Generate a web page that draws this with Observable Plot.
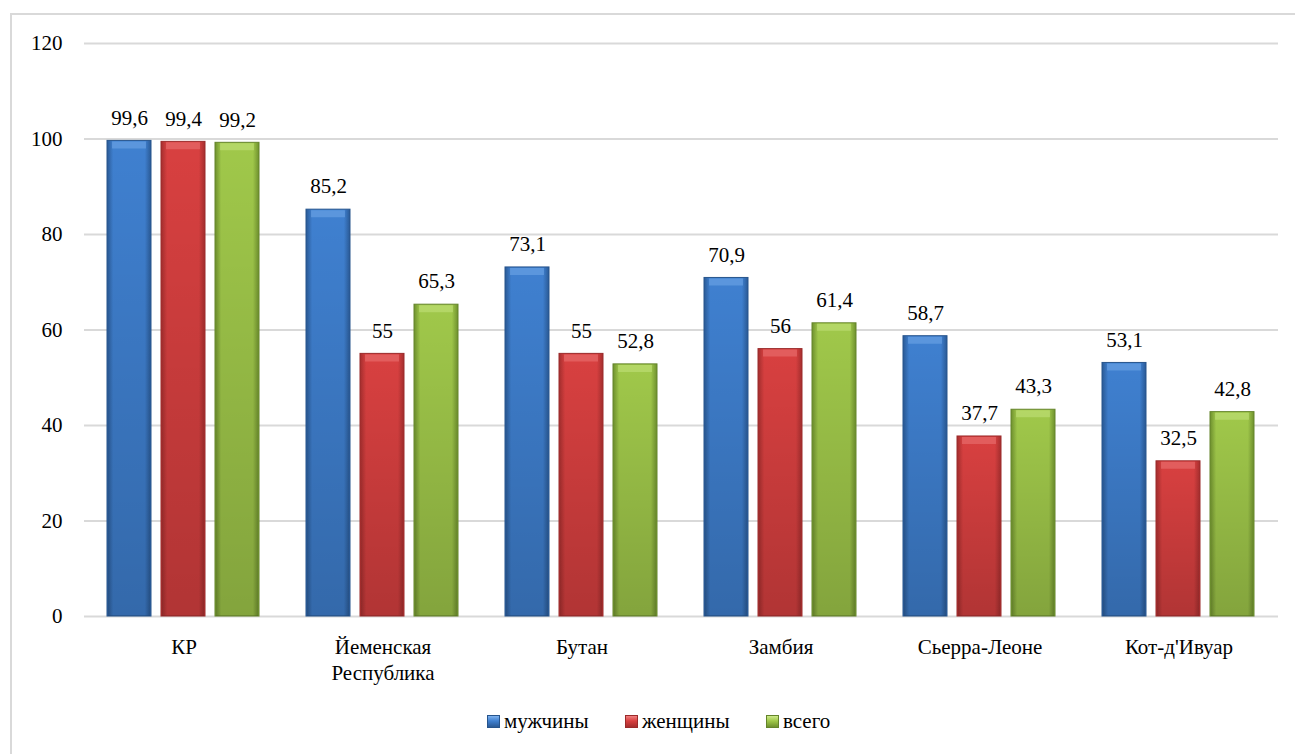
<!DOCTYPE html>
<html>
<head>
<meta charset="utf-8">
<script src="https://cdn.jsdelivr.net/npm/d3@7"></script>
<script src="https://cdn.jsdelivr.net/npm/@observablehq/plot@0.6"></script>
<style>
  html, body { margin: 0; padding: 0; background: #fff; }
  body { width: 1295px; height: 754px; position: relative; overflow: hidden; font-family: "Liberation Serif", "Times New Roman", Times, "Noto Serif", "DejaVu Serif", serif; }
  #frame { position: absolute; left: 10px; top: 13px; width: 1300px; height: 760px; border: 2px solid #d9d9d9; box-sizing: border-box; }
  #chart { position: absolute; left: 0; top: 0; }
  .item { position: absolute; top: 709px; display: flex; align-items: center; font-size: 21px; color: #000; }
  .sw { width: 13px; height: 13px; margin-right: 4px; box-sizing: border-box; }
  #chart svg, #chart svg text { font-family: "Liberation Serif", "Times New Roman", Times, "Noto Serif", "DejaVu Serif", serif !important; }
</style>
</head>
<body>
<div id="frame"></div>
<div id="chart"></div>
<div id="legend"></div>
<script>
const countries = ["КР", "Йеменская Республика", "Бутан", "Замбия", "Сьерра-Леоне", "Кот-д'Ивуар"];
const countryLabels = ["КР", "Йеменская\nРеспублика", "Бутан", "Замбия", "Сьерра-Леоне", "Кот-д'Ивуар"];
const seriesNames = ["мужчины", "женщины", "всего"];
const men = [99.6, 85.2, 73.1, 70.9, 58.7, 53.1];
const women = [99.4, 55, 55, 56, 37.7, 32.5];
const total = [99.2, 65.3, 52.8, 61.4, 43.3, 42.8];
const yTicks = [0, 20, 40, 60, 80, 100, 120];

const seriesValues = [men, women, total];
const gradIds = ["gBlue", "gRed", "gGreen"];
const palette = {
  gBlue: {edge: "#2a5a96", mid: "#3f80d0", top: "#7fb2ee", stroke: "#26548c"},
  gRed: {edge: "#a52e2e", mid: "#d84040", top: "#f08080", stroke: "#9a2a2a"},
  gGreen: {edge: "#6f912e", mid: "#a0c84a", top: "#cde98a", stroke: "#64842a"}
};

const data = [];
countries.forEach((c, i) => {
  seriesNames.forEach((s, j) => {
    data.push({country: c, series: s, value: seriesValues[j][i]});
  });
});

const labelOf = Object.fromEntries(countries.map((c, i) => [c, countryLabels[i]]));
const fmt = v => String(v).replace(".", ",");
const pal = d => palette[gradIds[seriesNames.indexOf(d.series)]];

function defs() {
  const d = d3.create("svg:defs");
  for (const id of gradIds) {
    const p = palette[id];
    const g = d.append("linearGradient").attr("id", id).attr("x1", 0).attr("x2", 1).attr("y1", 0).attr("y2", 0);
    g.append("stop").attr("offset", "0%").attr("stop-color", p.edge);
    g.append("stop").attr("offset", "14%").attr("stop-color", p.mid);
    g.append("stop").attr("offset", "86%").attr("stop-color", p.mid);
    g.append("stop").attr("offset", "100%").attr("stop-color", p.edge);
  }
  const s = d.append("linearGradient").attr("id", "shade").attr("x1", 0).attr("x2", 0).attr("y1", 0).attr("y2", 1);
  s.append("stop").attr("offset", "0%").attr("stop-color", "#000").attr("stop-opacity", 0);
  s.append("stop").attr("offset", "100%").attr("stop-color", "#000").attr("stop-opacity", 0.18);
  return d.node();
}

const chart = Plot.plot({
  width: 1295,
  height: 690,
  marginLeft: 84,
  marginRight: 17,
  marginTop: 43,
  marginBottom: 74,
  style: {fontSize: "21px", color: "#000", background: "transparent"},
  fx: {domain: countries, padding: 0},
  x: {domain: seriesNames, paddingInner: 0.18, paddingOuter: 0.4},
  y: {domain: [0, 120]},
  color: {domain: seriesNames, range: gradIds.map(id => `url(#${id})`)},
  marks: [
    defs,
    Plot.gridY(yTicks, {stroke: "#d9d9d9", strokeOpacity: 1, strokeWidth: 2}),
    Plot.axisY(yTicks, {tickSize: 0, tickPadding: 22, fontSize: 21, label: null, tickFormat: d => String(d)}),
    Plot.axisFx({anchor: "bottom", tickSize: 0, tickPadding: 19, fontSize: 21, lineHeight: 1.25, tickFormat: d => labelOf[d], label: null}),
    Plot.axisX({ticks: [], label: null, tickSize: 0}),
    Plot.barY(data, {fx: "country", x: "series", y: "value", fill: "series", stroke: d => pal(d).stroke, strokeWidth: 1}),
    Plot.barY(data, {fx: "country", x: "series", y: "value", fill: "url(#shade)", insetLeft: 1, insetRight: 1}),
    Plot.tickY(data, {fx: "country", x: "series", y: "value", dy: 4, strokeWidth: 7, insetLeft: 5, insetRight: 5,
      stroke: d => pal(d).top, strokeOpacity: 0.45}),
    Plot.text(data, {fx: "country", x: "series", y: "value", text: d => fmt(d.value), dy: -23, fontSize: 21, fill: "#000"})
  ]
});
document.getElementById("chart").appendChild(chart);

const legend = document.getElementById("legend");
const legendLeft = [487, 625, 766];
seriesNames.forEach((s, j) => {
  const p = palette[gradIds[j]];
  const item = document.createElement("div");
  item.className = "item";
  item.style.left = legendLeft[j] + "px";
  const sw = document.createElement("div");
  sw.className = "sw";
  sw.style.background = `linear-gradient(to bottom, ${p.top} 0%, ${p.mid} 45%, ${p.edge} 100%)`;
  sw.style.border = `1px solid ${p.stroke}`;
  const tx = document.createElement("span");
  tx.textContent = s;
  item.appendChild(sw);
  item.appendChild(tx);
  legend.appendChild(item);
});
</script>
</body>
</html>
